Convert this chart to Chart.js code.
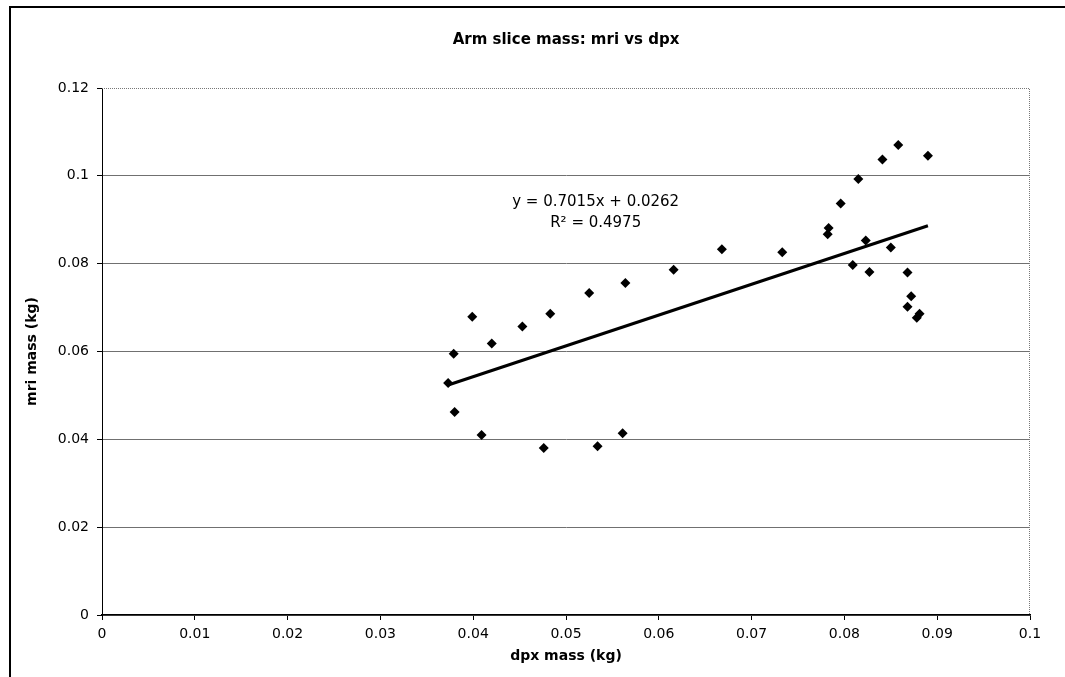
<!DOCTYPE html>
<html>
<head>
<meta charset="utf-8">
<script src="https://cdn.jsdelivr.net/npm/chart.js@4"></script>
<style>
  html, body { margin: 0; padding: 0; background: #fff; }
  #wrap { width: 1065px; height: 677px; position: relative; }
</style>
</head>
<body>
<div id="wrap"><canvas id="chart"></canvas></div>
<script>
// dpx mass (kg) vs mri mass (kg)
const dpxMass = [0.0373, 0.0379, 0.0380, 0.0399, 0.0409, 0.0420, 0.0453, 0.0476, 0.0483, 0.0525,
                 0.0534, 0.0561, 0.0564, 0.0616, 0.0668, 0.0733, 0.0782, 0.0783, 0.0796, 0.0809,
                 0.0815, 0.0823, 0.0827, 0.0841, 0.0850, 0.0858, 0.0868, 0.0868, 0.0872, 0.0878,
                 0.0881, 0.0890];
const mriMass = [0.0528, 0.0595, 0.0462, 0.0679, 0.0410, 0.0618, 0.0657, 0.0380, 0.0686, 0.0733,
                 0.0384, 0.0414, 0.0756, 0.0786, 0.0833, 0.0826, 0.0867, 0.0881, 0.0937, 0.0797,
                 0.0993, 0.0853, 0.0781, 0.1037, 0.0837, 0.1070, 0.0780, 0.0702, 0.0726, 0.0677,
                 0.0686, 0.1046];

// linear trendline as reported on the chart
const trendSlope = 0.7015;
const trendIntercept = 0.0262;
const trendLabel = ['y = 0.7015x + 0.0262', 'R\u00b2 = 0.4975'];

const chartTitle = 'Arm slice mass: mri vs dpx';
const xTickLabels = ['0', '0.01', '0.02', '0.03', '0.04', '0.05', '0.06', '0.07', '0.08', '0.09', '0.1'];
const yTickLabels = ['0', '0.02', '0.04', '0.06', '0.08', '0.1', '0.12'];

const points = dpxMass.map((x, i) => ({ x: x, y: mriMass[i] }));
const xMin = Math.min(...dpxMass);
const xMax = Math.max(...dpxMass);
const trend = [xMin, xMax].map(x => ({ x: x, y: trendSlope * x + trendIntercept }));

const FONT = 'DejaVu Sans, Verdana, sans-serif';

// white page, outer frame, title over the plot, dotted plot border and trendline label
const decorations = {
    id: 'decorations',
    beforeDraw(chart) {
        const ctx = chart.ctx;
        ctx.save();
        ctx.fillStyle = '#fff';
        ctx.fillRect(0, 0, chart.width, chart.height);
        ctx.restore();
    },
    afterDatasetsDraw(chart) {
        const ctx = chart.ctx;
        const a = chart.chartArea;
        const sx = chart.scales.x, sy = chart.scales.y;
        ctx.save();
        // dotted top / right border of the plot area
        ctx.strokeStyle = '#777';
        ctx.lineWidth = 1;
        ctx.setLineDash([1, 1]);
        ctx.beginPath();
        ctx.moveTo(a.left, a.top + 0.5);
        ctx.lineTo(a.right - 0.5, a.top + 0.5);
        ctx.lineTo(a.right - 0.5, a.bottom);
        ctx.stroke();
        ctx.setLineDash([]);

        // outer frame (left and top)
        ctx.strokeStyle = '#000';
        ctx.lineWidth = 2;
        ctx.beginPath();
        ctx.moveTo(10, chart.height);
        ctx.lineTo(10, 7);
        ctx.lineTo(chart.width, 7);
        ctx.stroke();

        ctx.fillStyle = '#000';
        ctx.textAlign = 'center';
        ctx.textBaseline = 'middle';

        // title, centred over the plot area
        ctx.font = 'bold 15px ' + FONT;
        ctx.fillText(chartTitle, (a.left + a.right) / 2, 40);

        // trendline equation
        ctx.font = '15px ' + FONT;
        const tx = sx.getPixelForValue(0.0532);
        ctx.fillText(trendLabel[0], tx, sy.getPixelForValue(0.0941));
        ctx.fillText(trendLabel[1], tx, sy.getPixelForValue(0.0893));
        ctx.restore();
    }
};

new Chart(document.getElementById('chart'), {
    type: 'scatter',
    data: {
        datasets: [
            {
                label: 'mri vs dpx',
                data: points,
                pointStyle: 'rectRot',
                pointRadius: 5,
                backgroundColor: '#000',
                borderColor: '#000',
                borderWidth: 0
            },
            {
                type: 'line',
                label: 'Linear trend',
                data: trend,
                borderColor: '#000',
                borderWidth: 3,
                pointRadius: 0,
                fill: false
            }
        ]
    },
    options: {
        responsive: true,
        maintainAspectRatio: false,
        animation: false,
        layout: { padding: { left: 0, right: 35, top: 88, bottom: 0 } },
        plugins: {
            legend: { display: false },
            tooltip: { enabled: false },
            title: { display: false }
        },
        scales: {
            x: {
                type: 'linear',
                min: 0,
                max: 0.1,
                afterFit: s => { s.height = 62; },
                border: { color: '#000', width: 1.5 },
                grid: { drawOnChartArea: false, tickLength: 5, color: '#000' },
                ticks: {
                    stepSize: 0.01,
                    padding: 6,
                    color: '#000',
                    maxRotation: 0,
                    font: { family: FONT, size: 14 },
                    callback: (v, i) => xTickLabels[i]
                },
                title: {
                    display: true,
                    text: 'dpx mass (kg)',
                    color: '#000',
                    font: { family: FONT, size: 14, weight: 'bold' },
                    padding: { top: 0, bottom: 12 }
                }
            },
            y: {
                type: 'linear',
                min: 0,
                max: 0.12,
                afterFit: s => { s.width = 102; },
                border: { color: '#000', width: 1 },
                grid: {
                    tickLength: 5,
                    tickColor: '#000',
                    lineWidth: 1,
                    color: ctx => ctx.tick && ctx.tick.value >= 0.119 ? 'rgba(0,0,0,0)' : '#707070'
                },
                ticks: {
                    stepSize: 0.02,
                    padding: 8,
                    color: '#000',
                    font: { family: FONT, size: 14 },
                    callback: (v, i) => yTickLabels[i]
                },
                title: {
                    display: true,
                    text: 'mri mass (kg)',
                    color: '#000',
                    font: { family: FONT, size: 14, weight: 'bold' },
                    padding: { top: 24, bottom: 0 }
                }
            }
        }
    },
    plugins: [decorations]
});
</script>
</body>
</html>
